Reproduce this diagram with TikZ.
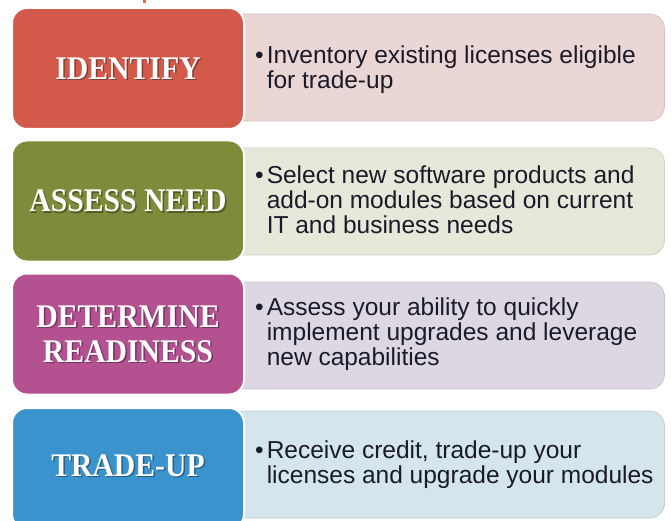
\documentclass[tikz,border=0pt]{standalone}
\usepackage{fontspec}
\setmainfont{Liberation Sans}
\newfontfamily\headfont{Liberation Serif}
\definecolor{cA}{HTML}{D35A4A}\definecolor{pA}{HTML}{E9D6D5}
\definecolor{cB}{HTML}{7E8B3A}\definecolor{pB}{HTML}{E4E9DA}
\definecolor{cC}{HTML}{B35191}\definecolor{pC}{HTML}{DDD7E3}
\definecolor{cD}{HTML}{3B93CE}\definecolor{pD}{HTML}{D4E5EC}
\definecolor{txt}{HTML}{1A1A28}
\definecolor{orng}{HTML}{F07020}
\tikzset{
  headbox/.style={rectangle, rounded corners=15pt, draw=white, line width=2pt,
    minimum width=232pt, minimum height=121pt, inner sep=0pt},
  panel/.style={rectangle, rounded corners=15pt, line width=0.8pt,
    minimum width=435pt, minimum height=107pt, inner sep=0pt},
  headtxt/.style={text=white, align=center, inner sep=0pt,
    font=\headfont\bfseries\fontsize{33}{35}\selectfont},
  headshadow/.style={headtxt, text=black, opacity=0.35},
  bodytxt/.style={anchor=west, inner sep=0pt, text=txt,
    font=\fontsize{24.5}{25}\selectfont},
}
\newcommand{\hd}[1]{\scalebox{0.9}[1]{#1}}
\newcommand{\blt}[1]{\begin{tabular}{@{}l@{\hspace{3pt}}l@{}}#1\end{tabular}}
\begin{document}
\begin{tikzpicture}[x=1pt,y=-1pt]
\useasboundingbox (0,0) rectangle (671,521);
\clip (0,0) rectangle (671,521);
\fill[orng] (142.5,0) rectangle (145.5,3);
% row 1
\node[panel, fill=pA, draw=pA!85!black!60!pA] (p1) at (447,67.5) {};
\node[headbox, fill=cA] (h1) at (128,68.5) {};
\node[headshadow] (s1) at (129.5,70) {\hd{IDENTIFY}};
\node[headtxt] (t1) at (h1) {\hd{IDENTIFY}};
\node[bodytxt] (b1) at (255,71) {\blt{\textbullet&Inventory existing licenses eligible\\&for trade-up}};
% row 2
\node[panel, fill=pB, draw=pB!85!black!60!pB] (p2) at (447,201.5) {};
\node[headbox, fill=cB] (h2) at (128,201) {};
\node[headshadow] (s2) at (129.5,202.5) {\hd{ASSESS NEED}};
\node[headtxt] (t2) at (h2) {\hd{ASSESS NEED}};
\node[bodytxt] (b2) at (255,203.5) {\blt{\textbullet&Select new software products and\\&add-on modules based on current\\&IT and business needs}};
% row 3
\node[panel, fill=pC, draw=pC!85!black!60!pC] (p3) at (447,335.5) {};
\node[headbox, fill=cC] (h3) at (128,334) {};
\node[headshadow] (s3) at (129.5,335.5) {\hd{DETERMINE}\\\hd{READINESS}};
\node[headtxt] (t3) at (h3) {\hd{DETERMINE}\\\hd{READINESS}};
\node[bodytxt] (b3) at (255,335.5) {\blt{\textbullet&Assess your ability to quickly\\&implement upgrades and leverage\\&new capabilities}};
% row 4
\node[panel, fill=pD, draw=pD!85!black!60!pD] (p4) at (447,464.5) {};
\node[headbox, fill=cD] (h4) at (128,468.5) {};
\node[headshadow] (s4) at (129.5,467) {\hd{TRADE-UP}};
\node[headtxt] (t4) at (128,465.5) {\hd{TRADE-UP}};
\node[bodytxt] (b4) at (255,466) {\blt{\textbullet&Receive credit, trade-up your\\&licenses and upgrade your modules}};
\end{tikzpicture}
\end{document}
